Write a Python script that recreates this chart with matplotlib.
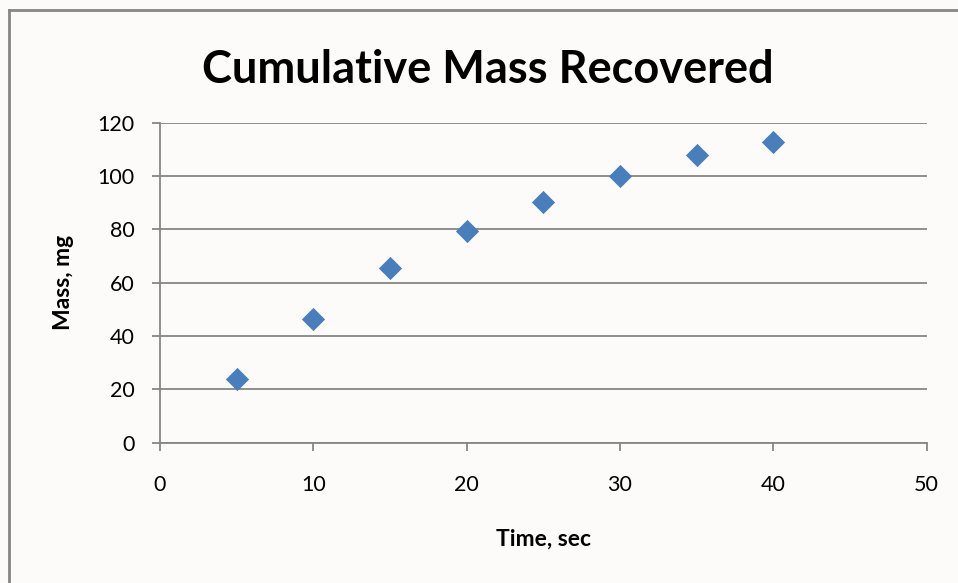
import matplotlib
matplotlib.use("Agg")
import matplotlib.pyplot as plt
from matplotlib.lines import Line2D

# Cumulative mass recovered over time
time_sec = [5, 10, 15, 20, 25, 30, 35, 40]
mass_mg = [24, 46.3, 65.4, 79.5, 90.3, 100, 107.9, 112.9]

x_ticks = [0, 10, 20, 30, 40, 50]
y_ticks = [0, 20, 40, 60, 80, 100, 120]

title = "Cumulative Mass Recovered"
x_label = "Time, sec"
y_label = "Mass, mg"

font = ["Lato", "DejaVu Sans"]
bg = "#FCFBF9"
grey = "#868686"
marker_color = "#4A7EBB"

fig = plt.figure(figsize=(9.58, 5.83), dpi=100, facecolor=bg)
ax = fig.add_axes([0.1670, 0.2407, 0.8003, 0.5488])
ax.set_facecolor(bg)

ax.scatter(time_sec, mass_mg, marker="D", s=140, color=marker_color,
           linewidths=0, zorder=3, clip_on=False)

ax.set_xlim(0, 50)
ax.set_ylim(0, 120)
ax.set_xticks(x_ticks)
ax.set_yticks(y_ticks)
ax.set_xticklabels([str(t) for t in x_ticks], fontfamily=font, fontsize=15.5)
ax.set_yticklabels([str(t) for t in y_ticks], fontfamily=font, fontsize=15.5)

ax.yaxis.grid(True, color=grey, linewidth=1.3)
ax.set_axisbelow(True)

for side in ("top", "right"):
    ax.spines[side].set_visible(False)
for side in ("left", "bottom"):
    ax.spines[side].set_color(grey)
    ax.spines[side].set_linewidth(1.3)

ax.tick_params(axis="both", direction="out", length=5.5, width=1.3,
               color=grey, labelcolor="black")
ax.tick_params(axis="y", pad=13)
ax.tick_params(axis="x", pad=18)

ax.set_xlabel(x_label, fontfamily=font, fontweight="bold", fontsize=16.5,
              labelpad=24)
ax.set_ylabel(y_label, fontfamily=font, fontweight="bold", fontsize=16.5,
              labelpad=17)

fig.text(0.509, 0.858, title, fontfamily=font, fontweight="bold",
         fontsize=32.5, ha="center", va="baseline")

# Chart frame (left and top edges)
fig.add_artist(Line2D([0.0089, 0.0089], [0, 0.982], transform=fig.transFigure,
                      color=grey, linewidth=2))
fig.add_artist(Line2D([0.0089, 1.0], [0.982, 0.982], transform=fig.transFigure,
                      color=grey, linewidth=2))

fig.savefig("out.png", dpi=100, facecolor=bg)
